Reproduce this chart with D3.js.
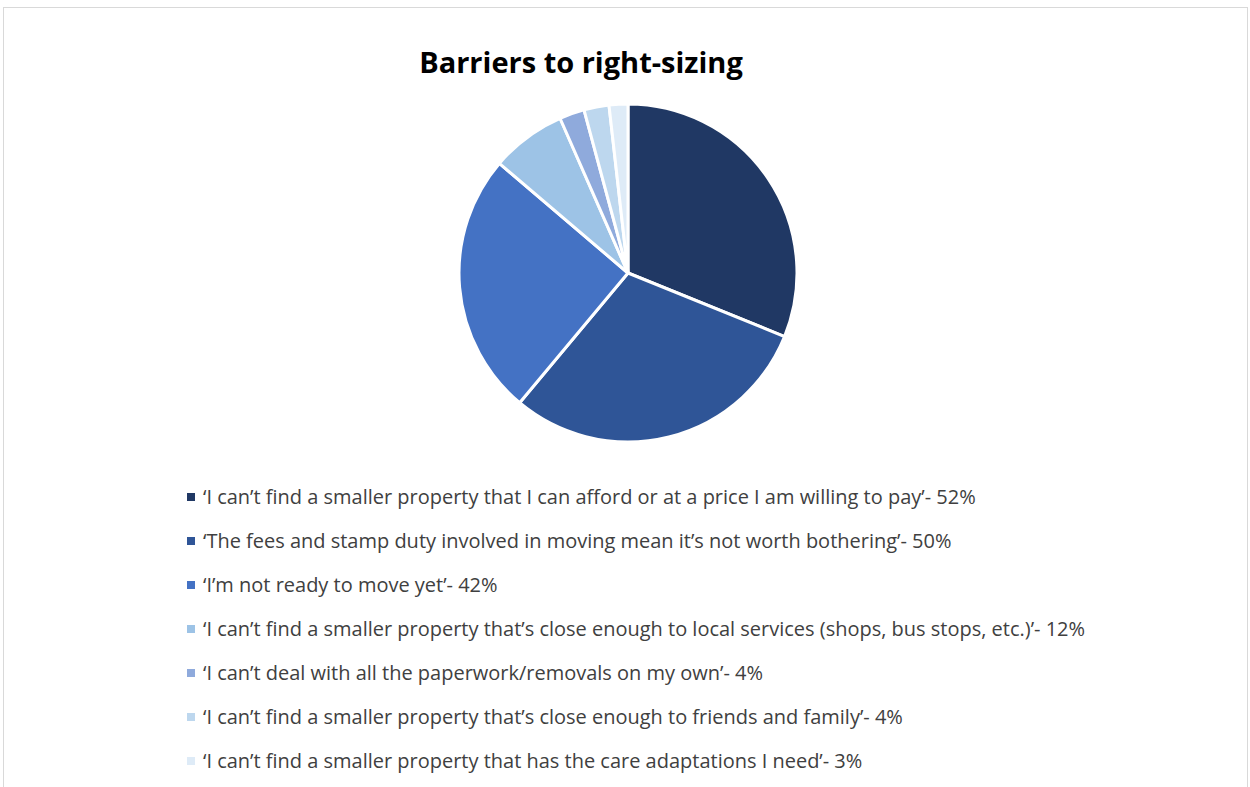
<!DOCTYPE html>
<html>
<head>
<meta charset="utf-8">
<script src="https://cdn.jsdelivr.net/npm/d3@7"></script>
<style>
  body { margin: 0; background: #fff; }
  svg { display: block; }
</style>
</head>
<body>
<div id="chart"></div>
<script>
// data
const labels = [
  "\u2018I can\u2019t find a smaller property that I can afford or at a price I am willing to pay\u2019- 52%",
  "\u2018The fees and stamp duty involved in moving mean it\u2019s not worth bothering\u2019- 50%",
  "\u2018I\u2019m not ready to move yet\u2019- 42%",
  "\u2018I can\u2019t find a smaller property that\u2019s close enough to local services (shops, bus stops, etc.)\u2019- 12%",
  "\u2018I can\u2019t deal with all the paperwork/removals on my own\u2019- 4%",
  "\u2018I can\u2019t find a smaller property that\u2019s close enough to friends and family\u2019- 4%",
  "\u2018I can\u2019t find a smaller property that has the care adaptations I need\u2019- 3%"
];
const values = [52, 50, 42, 12, 4, 4, 3];
const colors = ["#203864", "#2F5597", "#4472C4", "#9DC3E6", "#8FAADC", "#BDD7EE", "#DEEBF7"];

const width = 1250, height = 787;
const svg = d3.select("#chart").append("svg")
  .attr("width", width)
  .attr("height", height);

// chart border
svg.append("rect")
  .attr("x", 3.5).attr("y", 7.5)
  .attr("width", 1244).attr("height", 800)
  .attr("fill", "#fff")
  .attr("stroke", "#d9d9d9")
  .attr("stroke-width", 1);

svg.append("text")
  .attr("x", 581).attr("y", 73)
  .attr("text-anchor", "middle")
  .attr("font-family", "'Open Sans', sans-serif")
  .attr("font-weight", "bold")
  .attr("font-size", 29)
  .attr("fill", "#000")
  .text("Barriers to right-sizing");

let data = values.map((v, i) => ({value: v, label: labels[i], color: colors[i]}));

let pie = d3.pie().value(d => d.value).sort(null);
let arc = d3.arc().innerRadius(0).outerRadius(169);

let g = svg.append("g").attr("transform", "translate(628,273)");
g.selectAll("path")
  .data(pie(data))
  .enter()
  .append("path")
  .attr("d", arc)
  .attr("fill", d => d.data.color)
  .attr("stroke", "#fff")
  .attr("stroke-width", 3)
  .attr("stroke-linejoin", "round");

// legend, one row per slice
let y = d3.scaleBand().domain(d3.range(data.length)).range([475, 783]);
let legend = svg.append("g");
let rows = legend.selectAll("g")
  .data(data)
  .enter()
  .append("g")
  .attr("transform", (d, i) => "translate(0," + (y(i) + y.bandwidth() / 2) + ")");

rows.append("rect")
  .attr("x", 187).attr("y", -4)
  .attr("width", 8).attr("height", 8)
  .attr("fill", d => d.color);

let texts = rows.append("text")
  .attr("x", 203).attr("y", 6.5)
  .attr("font-family", "'Open Sans', sans-serif")
  .attr("font-size", 18)
  .attr("fill", "#404040")
  .text(d => d.label);

// size font so the first line spans as in the picture
let w0 = texts.node().getComputedTextLength();
texts.attr("font-size", 18 * 773 / w0);
</script>
</body>
</html>
